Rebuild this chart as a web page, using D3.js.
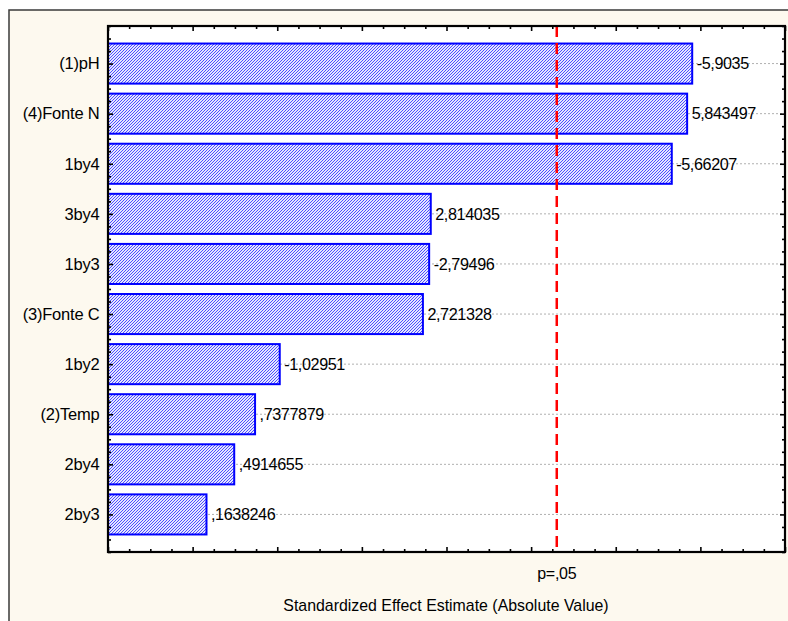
<!DOCTYPE html>
<html>
<head>
<meta charset="utf-8">
<script src="https://cdn.jsdelivr.net/npm/d3@7"></script>
<style>
  html, body { margin: 0; padding: 0; background: #ffffff; }
  svg { display: block; }
  text { font-family: "Liberation Sans", Arial, sans-serif; fill: #000; }
</style>
</head>
<body>
<svg id="chart" width="788" height="621"></svg>
<script>
// ---- data ----
const categories = ["(1)pH", "(4)Fonte N", "1by4", "3by4", "1by3", "(3)Fonte C", "1by2", "(2)Temp", "2by4", "2by3"];
const effects = [-5.9035, 5.843497, -5.66207, 2.814035, -2.79496, 2.721328, -1.02951, 0.7377879, 0.4914655, 0.1638246];
const xDomain = [-1, 7];
const pCritical = 4.303;
const pLabel = "p=,05";
const xTitle = "Standardized Effect Estimate (Absolute Value)";

// ---- layout ----
const W = 788, H = 621;
const plot = { left: 108, top: 26, right: 785, bottom: 552 };

const svg = d3.select("#chart");

const defs = svg.append("defs");
const pat = defs.append("pattern")
  .attr("id", "hatch")
  .attr("patternUnits", "userSpaceOnUse")
  .attr("width", 3).attr("height", 3);
pat.append("rect").attr("width", 3).attr("height", 3).attr("fill", "#e4e6ff");
pat.append("path").attr("d", "M-0.5,3.5 L3.5,-0.5 M-1.5,1.5 L1.5,-1.5 M1.5,4.5 L4.5,1.5")
  .attr("stroke", "#3c3cff").attr("stroke-width", 0.9).attr("fill", "none");

// outer frame (cropped window)
svg.append("rect").attr("x", 9).attr("y", 10).attr("width", W + 20).attr("height", H + 20)
  .attr("fill", "#fdf9ef").attr("stroke", "#3a3a3a").attr("stroke-width", 1.5);

// plot background
svg.append("rect").attr("x", plot.left).attr("y", plot.top)
  .attr("width", plot.right - plot.left).attr("height", plot.bottom - plot.top)
  .attr("fill", "#ffffff");

const x = d3.scaleLinear().domain(xDomain).range([plot.left, plot.right]);
const y = d3.scalePoint().domain(categories).range([plot.top, plot.bottom]).padding(0.75);
const step = y.step();
const barH = step * 0.8;

// grid lines (dotted) at category centres
svg.append("g").selectAll("line").data(categories).join("line")
  .attr("x1", plot.left).attr("x2", plot.right)
  .attr("y1", d => y(d)).attr("y2", d => y(d))
  .attr("stroke", "#b0b0b0").attr("stroke-width", 1).attr("stroke-dasharray", "2,2");

// bars
const rows = categories.map((c, i) => ({ cat: c, val: effects[i] }));
svg.append("g").selectAll("rect").data(rows).join("rect")
  .attr("x", x(xDomain[0]))
  .attr("y", d => y(d.cat) - barH / 2)
  .attr("width", d => x(Math.abs(d.val)) - x(xDomain[0]))
  .attr("height", barH)
  .attr("fill", "url(#hatch)")
  .attr("stroke", "#0000ff").attr("stroke-width", 2);

// value labels
const loc = d3.formatLocale({ decimal: ",", thousands: ".", grouping: [3], currency: ["", ""], minus: "-" });
const fmt = v => loc.format(".7~g")(v).replace(/^(-?)0,/, "$1,");
svg.append("g").selectAll("text").data(rows).join("text")
  .attr("x", d => x(Math.abs(d.val)) + 4.5)
  .attr("y", d => y(d.cat))
  .attr("dy", "0.36em")
  .attr("font-size", 16.2)
  .attr("letter-spacing", -0.4)
  .text(d => fmt(d.val));

// critical value line
svg.append("line")
  .attr("x1", x(pCritical)).attr("x2", x(pCritical))
  .attr("y1", plot.top).attr("y2", plot.bottom)
  .attr("stroke", "#ff0000").attr("stroke-width", 2.5).attr("stroke-dasharray", "11,6");

// x axes (inward ticks, no labels)
const majorX = d3.range(xDomain[0], xDomain[1] + 0.001, 1);
const minorX = d3.range(xDomain[0], xDomain[1] + 0.001, 0.25).filter(v => Math.abs(v - Math.round(v)) > 1e-6);

function styleAxis(g) {
  g.select(".domain").remove();
  g.selectAll(".tick line").attr("stroke", "#000").attr("stroke-width", 1.6);
}
svg.append("g").attr("transform", `translate(0,${plot.bottom})`)
  .call(d3.axisBottom(x).tickValues(majorX).tickSize(-5).tickFormat("")).call(styleAxis);
svg.append("g").attr("transform", `translate(0,${plot.bottom})`)
  .call(d3.axisBottom(x).tickValues(minorX).tickSize(-3).tickFormat("")).call(styleAxis);
svg.append("g").attr("transform", `translate(0,${plot.top})`)
  .call(d3.axisTop(x).tickValues(majorX).tickSize(-5).tickFormat("")).call(styleAxis);
svg.append("g").attr("transform", `translate(0,${plot.top})`)
  .call(d3.axisTop(x).tickValues(minorX).tickSize(-3).tickFormat("")).call(styleAxis);

// y axes: major ticks at categories, minor at quarter steps
const nQuarter = Math.round((plot.bottom - plot.top) / (step / 4));
const minorY = d3.range(0, nQuarter + 1).map(i => plot.top + i * step / 4)
  .filter(v => !categories.some(c => Math.abs(y(c) - v) < 1));
const yl = d3.scaleIdentity().domain([plot.top, plot.bottom]);

const leftAxis = svg.append("g").attr("transform", `translate(${plot.left},0)`)
  .call(d3.axisLeft(y).tickSize(-5).tickPadding(8.5).tickFormat(d => d));
leftAxis.select(".domain").remove();
leftAxis.selectAll(".tick line").attr("stroke", "#000").attr("stroke-width", 1.6);
leftAxis.selectAll(".tick text").attr("font-size", 16.5).attr("letter-spacing", -0.2)
  .attr("fill", "#000").attr("font-family", "'Liberation Sans', Arial, sans-serif");
svg.append("g").attr("transform", `translate(${plot.left},0)`)
  .call(d3.axisLeft(yl).tickValues(minorY).tickSize(-3).tickFormat("")).call(styleAxis);

const rightAxis = svg.append("g").attr("transform", `translate(${plot.right},0)`)
  .call(d3.axisRight(y).tickSize(-5).tickFormat("")).call(styleAxis);
svg.append("g").attr("transform", `translate(${plot.right},0)`)
  .call(d3.axisRight(yl).tickValues(minorY).tickSize(-3).tickFormat("")).call(styleAxis);

// plot frame
svg.append("rect").attr("x", plot.left).attr("y", plot.top)
  .attr("width", plot.right - plot.left).attr("height", plot.bottom - plot.top)
  .attr("fill", "none").attr("stroke", "#000").attr("stroke-width", 2.2);

// p label and axis title
svg.append("text").attr("x", x(pCritical)).attr("y", 579)
  .attr("text-anchor", "middle").attr("font-size", 16).attr("letter-spacing", -0.3)
  .text(pLabel);
svg.append("text").attr("x", 446).attr("y", 611)
  .attr("text-anchor", "middle").attr("font-size", 15.9)
  .text(xTitle);
</script>
</body>
</html>
